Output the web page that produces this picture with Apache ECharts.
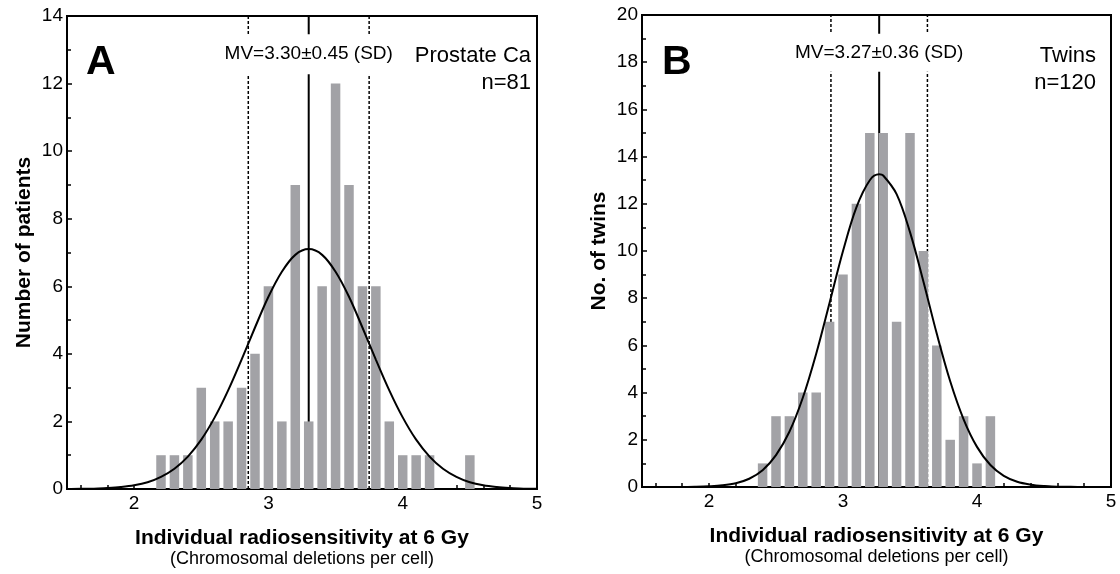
<!DOCTYPE html>
<html><head><meta charset="utf-8">
<script src="https://cdn.jsdelivr.net/npm/echarts@6/dist/echarts.min.js"></script>
<style>html,body{margin:0;padding:0;background:#fff}#c{width:1120px;height:574px}</style>
</head><body><div id="c"></div>
<script>
// ---------- Data ----------
const binsA = [2.2,2.3,2.4,2.5,2.6,2.7,2.8,2.9,3.0,3.1,3.2,3.3,3.4,3.5,3.6,3.7,3.8,3.9,4.0,4.1,4.2,4.3,4.4,4.5];
const countsA = [1,1,1,3,2,2,3,4,6,2,9,2,6,12,9,6,6,2,1,1,1,0,0,1];
const binsB = [2.4,2.5,2.6,2.7,2.8,2.9,3.0,3.1,3.2,3.3,3.4,3.5,3.6,3.7,3.8,3.9,4.0,4.1];
const countsB = [1,3,3,4,4,7,9,12,15,15,7,15,10,6,2,3,1,3];

const curveAx = [1.5,1.6,1.7,1.8,1.9,2.0,2.1,2.2,2.3,2.4,2.5,2.6,2.7,2.8,2.9,3.0,3.1,3.2,3.3,3.4,3.5,3.6,3.7,3.8,3.9,4.0,4.1,4.2,4.3,4.4,4.5,4.6,4.7,4.8,4.9,5.0];
const curveAy = [0.00,0.01,0.01,0.03,0.06,0.11,0.20,0.36,0.60,0.96,1.46,2.12,2.92,3.83,4.78,5.69,6.43,6.93,7.10,6.93,6.43,5.69,4.78,3.83,2.92,2.12,1.46,0.96,0.60,0.36,0.20,0.11,0.06,0.03,0.01,0.01];
const curveBx = [1.5,1.6,1.7,1.8,1.9,2.0,2.1,2.2,2.3,2.4,2.5,2.6,2.7,2.8,2.9,3.0,3.1,3.2,3.27,3.3,3.4,3.5,3.6,3.7,3.8,3.9,4.0,4.1,4.2,4.3,4.4,4.5,4.6,4.7,4.8,4.9,5.0];
const curveBy = [0.00,0.00,0.00,0.00,0.01,0.03,0.07,0.16,0.35,0.71,1.35,2.34,3.78,5.65,7.81,10.0,11.85,13.0,13.25,13.2,12.41,10.8,8.71,6.49,4.48,2.87,1.70,0.93,0.47,0.22,0.10,0.04,0.01,0.01,0.00,0.00,0.00];

const meanA = 3.30, sdA = 0.45, nA = 81;
const meanB = 3.27, sdB = 0.36, nB = 120;
const labelYA = 12.87, labelYB = 18.40;

const xTickValues = [1.6,1.8,2.0,2.2,2.4,2.6,2.8,3.0,3.2,3.4,3.6,3.8,4.0,4.2,4.4,4.6,4.8,5.0];
const xLabelValues = [2,3,4,5];
const yMaxA = 14, yMaxB = 20;

// ---------- Chart ----------
const FONT = "'Liberation Sans', Arial, sans-serif";
const chart = echarts.init(document.getElementById('c'), null, {renderer: 'canvas'});

function zip(a, b) { return a.map((v, i) => [v, b[i]]); }

function xAxisCfg(gi) {
  return {
    type: 'value', gridIndex: gi, min: 1.5, max: 5,
    axisLine: {show: true, lineStyle: {color: '#000', width: 2}},
    axisTick: {show: true, inside: true, length: 4, lineStyle: {color: '#000', width: 1.5}, customValues: xTickValues},
    axisLabel: {show: true, color: '#000', fontSize: 19, fontFamily: FONT, margin: 5, customValues: xLabelValues},
    splitLine: {show: false},
    name: '{a|Individual radiosensitivity at 6 Gy}\n{b|(Chromosomal deletions per cell)}',
    nameLocation: 'middle', nameGap: 38,
    nameTextStyle: {
      color: '#000', fontFamily: FONT,
      rich: {
        a: {fontSize: 21, fontWeight: 'bold', fontFamily: FONT, color: '#000', lineHeight: 22},
        b: {fontSize: 18, fontFamily: FONT, color: '#000', lineHeight: 21}
      }
    }
  };
}
function yAxisCfg(gi, max, name) {
  return {
    type: 'value', gridIndex: gi, min: 0, max: max, interval: 2,
    axisLine: {show: true, lineStyle: {color: '#000', width: 2}},
    axisTick: {show: true, inside: true, length: 5, lineStyle: {color: '#000', width: 1.5}},
    minorTick: {show: true, splitNumber: 2, length: 4, lineStyle: {color: '#000', width: 1.5}},
    axisLabel: {show: true, color: '#000', fontSize: 19, fontFamily: FONT, margin: 4},
    splitLine: {show: false},
    name: name, nameLocation: 'middle', nameGap: 32, nameRotate: 90,
    nameTextStyle: {color: '#000', fontSize: 21, fontWeight: 'bold', fontFamily: FONT}
  };
}

function panelSeries(idx, bins, counts, cx, cy, mean, sd, ymax, labelY, barW, pad) {
  const lineBase = {type: 'line', xAxisIndex: idx, yAxisIndex: idx, symbol: 'none', silent: true, animation: false};
  return [
    Object.assign({}, lineBase, {data: [[mean - sd, 0], [mean - sd, ymax]], lineStyle: {color: '#000', width: 1.5, type: [3, 2]}, z: 2}),
    Object.assign({}, lineBase, {data: [[mean + sd, 0], [mean + sd, ymax]], lineStyle: {color: '#000', width: 1.5, type: [3, 2]}, z: 2}),
    Object.assign({}, lineBase, {data: [[mean, 0], [mean, ymax]], lineStyle: {color: '#000', width: 2}, z: 2}),
    {type: 'bar', xAxisIndex: idx, yAxisIndex: idx, data: zip(bins, counts), barWidth: barW,
     itemStyle: {color: '#a2a2a6'}, z: 3, animation: false, silent: true},
    Object.assign({}, lineBase, {data: zip(cx, cy), smooth: 0.35, lineStyle: {color: '#000', width: 2}, z: 4}),
    {type: 'scatter', xAxisIndex: idx, yAxisIndex: idx, data: [[mean, labelY]], symbolSize: 1,
     itemStyle: {color: 'rgba(0,0,0,0)', opacity: 1}, z: 5, animation: false, silent: true,
     label: {show: true, position: 'inside', color: '#000', opacity: 1, fontSize: 19, fontFamily: FONT, lineHeight: 20,
       backgroundColor: '#fff', padding: [pad, 3, pad, 3],
       formatter: () => 'MV=' + mean.toFixed(2) + '\u00b1' + sd.toFixed(2) + ' (SD)'}}
  ];
}

const option = {
  backgroundColor: '#fff',
  animation: false,
  grid: [
    {left: 67, top: 16, width: 470, height: 473, show: true, borderColor: '#000', borderWidth: 2, backgroundColor: 'transparent'},
    {left: 642, top: 15, width: 469, height: 472, show: true, borderColor: '#000', borderWidth: 2, backgroundColor: 'transparent'}
  ],
  xAxis: [xAxisCfg(0), xAxisCfg(1)],
  yAxis: [yAxisCfg(0, yMaxA, 'Number of patients'), yAxisCfg(1, yMaxB, 'No. of twins')],
  series: [].concat(
    panelSeries(0, binsA, countsA, curveAx, curveAy, meanA, sdA, yMaxA, labelYA, 9.5, 10),
    panelSeries(1, binsB, countsB, curveBx, curveBy, meanB, sdB, yMaxB, labelYB, 9.5, 9)
  ),
  graphic: [
    {type: 'text', x: 86, y: 42, style: {text: 'A', fontSize: 41, fontWeight: 'bold', fontFamily: FONT, fill: '#000'}},
    {type: 'text', x: 662, y: 42, style: {text: 'B', fontSize: 41, fontWeight: 'bold', fontFamily: FONT, fill: '#000'}},
    {type: 'text', x: 531, y: 42, style: {text: 'Prostate Ca\nn=' + nA, fontSize: 22, fontFamily: FONT, fill: '#000', align: 'right', verticalAlign: 'top', lineHeight: 27}},
    {type: 'text', x: 1096, y: 42, style: {text: 'Twins\nn=' + nB, fontSize: 22, fontFamily: FONT, fill: '#000', align: 'right', verticalAlign: 'top', lineHeight: 27}}
  ]
};
chart.setOption(option);
</script>
</body></html>
